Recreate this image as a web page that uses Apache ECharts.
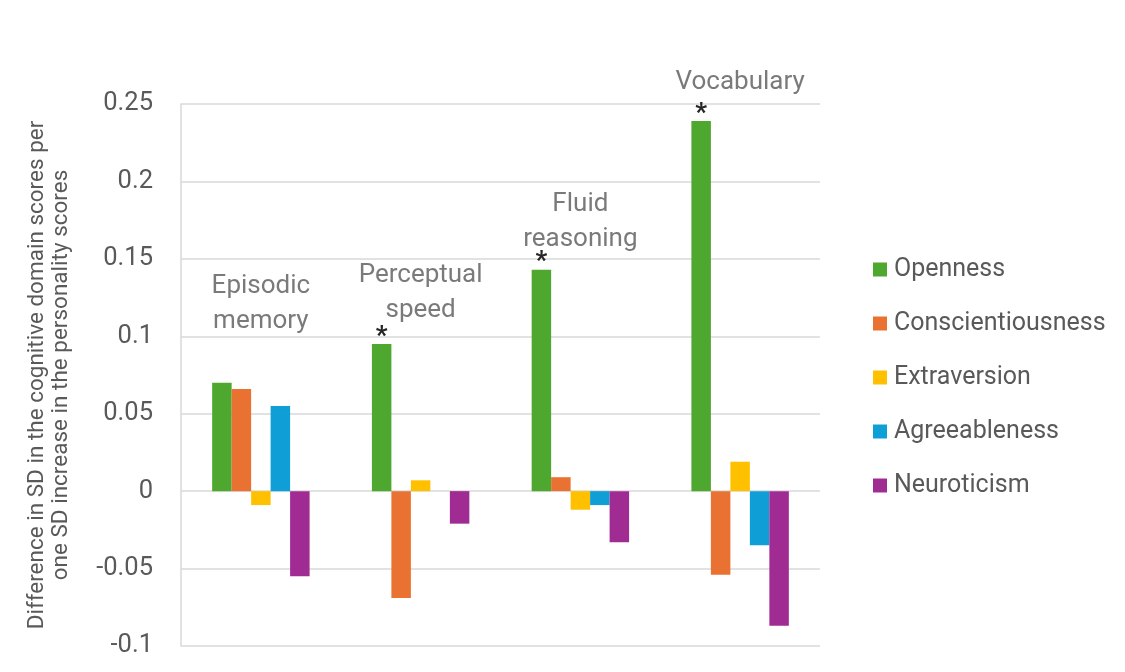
<!DOCTYPE html>
<html>
<head>
<meta charset="utf-8">
<script src="https://cdn.jsdelivr.net/npm/echarts@6/dist/echarts.min.js"></script>
<style>
  html, body { margin: 0; padding: 0; background: #fff; }
  #chart { width: 1125px; height: 672px; }
</style>
</head>
<body>
<div id="chart"></div>
<script>
// cognitive domains (one group of bars each)
const domains = ['Episodic\nmemory', 'Perceptual\nspeed', 'Fluid\nreasoning', 'Vocabulary'];
// where the domain caption sits, in axis units
const captionY = [0.121, 0.128, 0.174, 0.264];
// significant openness effect -> asterisk
const significant = [false, true, true, true];

const openness = [0.070, 0.095, 0.143, 0.239];
const conscientiousness = [0.066, -0.069, 0.009, -0.054];
const extraversion = [-0.009, 0.007, -0.012, 0.019];
const agreeableness = [0.055, 0, -0.009, -0.035];
const neuroticism = [-0.055, -0.021, -0.033, -0.087];

const yTicks = { min: -0.1, max: 0.25, interval: 0.05 };

const font = 'Roboto';
const grey = '#595959';

const chart = echarts.init(document.getElementById('chart'));

function bar(name, data, color, extra) {
  return Object.assign({
    name: name,
    type: 'bar',
    data: data,
    barGap: '0%',
    barCategoryGap: '39%',
    itemStyle: { color: color },
    emphasis: { disabled: true }
  }, extra || {});
}

const option = {
  animation: false,
  textStyle: { fontFamily: font },
  grid: { left: 181, right: 305, top: 104, bottom: 26 },
  legend: {
    orient: 'vertical',
    left: 868,
    top: 252,
    itemWidth: 14,
    itemHeight: 14,
    itemGap: 29,
    icon: 'rect',
    data: ['Openness', 'Conscientiousness', 'Extraversion', 'Agreeableness', 'Neuroticism'],
    textStyle: { fontFamily: font, fontSize: 25, color: grey, padding: [0, 0, 0, 2] }
  },
  xAxis: {
    type: 'category',
    data: domains,
    axisLine: { show: false },
    axisTick: { show: false },
    axisLabel: { show: false }
  },
  yAxis: {
    type: 'value',
    min: yTicks.min,
    max: yTicks.max,
    interval: yTicks.interval,
    name: 'Difference in SD in the cognitive domain scores per\none SD increase in the personality scores',
    nameLocation: 'middle',
    nameGap: 108,
    nameTextStyle: { fontFamily: font, fontSize: 22.5, color: grey, lineHeight: 24 },
    axisLine: { show: true, lineStyle: { color: '#d9d9d9', width: 1.5 } },
    axisTick: { show: false },
    axisLabel: {
      fontFamily: font, fontSize: 25.5, color: grey, margin: 28,
      formatter: v => String(Math.round(v * 100) / 100)
    },
    splitLine: { lineStyle: { color: '#d9d9d9', width: 1.5 } }
  },
  series: [
    bar('Openness', openness, '#4ea72e', {
      label: {
        show: true,
        position: 'top',
        distance: -6,
        fontFamily: font,
        fontWeight: 'bold',
        fontSize: 26,
        color: '#262626',
        formatter: p => significant[p.dataIndex] ? '*' : ''
      }
    }),
    bar('Conscientiousness', conscientiousness, '#e97132'),
    bar('Extraversion', extraversion, '#ffc000'),
    bar('Agreeableness', agreeableness, '#0f9ed5'),
    bar('Neuroticism', neuroticism, '#a02b93'),
    {
      type: 'scatter',
      data: captionY,
      symbolSize: 0,
      clip: false,
      silent: true,
      label: {
        show: true,
        position: 'inside',
        fontFamily: font,
        fontSize: 26,
        lineHeight: 35,
        color: grey,
        formatter: p => domains[p.dataIndex]
      }
    }
  ]
};

chart.setOption(option);
</script>
</body>
</html>
